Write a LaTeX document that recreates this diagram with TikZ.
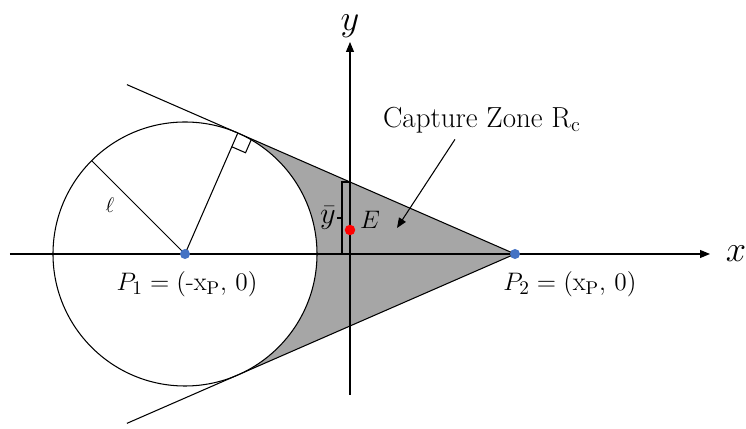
\documentclass[tikz,border=0pt]{standalone}
\usepackage{amsmath}
\usepackage{xcolor}
\usetikzlibrary{arrows.meta,calc,positioning}
\definecolor{ptBlue}{HTML}{4472C4}
\definecolor{evRed}{HTML}{FF0000}
\definecolor{zoneGray}{HTML}{A6A6A6}

\begin{document}
\begin{tikzpicture}[line width=0.6pt, >={Triangle[length=2mm,width=1.6mm]},
  pt/.style={circle,fill=ptBlue,inner sep=0pt,minimum size=2mm},
  lbl/.style={font=\fontsize{15}{18}\selectfont},
  axlbl/.style={font=\fontsize{20}{24}\selectfont,inner sep=0pt}]
\useasboundingbox (-7.0,-3.5) rectangle (7.92,5.08);
% points and tangent construction
\pgfmathsetmacro{\rad}{2.64}
\pgfmathsetmacro{\tang}{acos(\rad/6.6)}
\coordinate (O) at (0,0);
\coordinate (P1) at (-3.3,0);
\coordinate (P2) at (3.3,0);
\coordinate (T1) at ($(P1)+(\tang:\rad)$);
\coordinate (T2) at ($(P1)+(-\tang:\rad)$);
\coordinate (U) at ($(P2)!1.4!(T1)$);
\coordinate (L) at ($(P2)!1.4!(T2)$);
\coordinate (R) at ($(P1)+(135:\rad)$);
\coordinate (Xl) at (-6.8,0);
\coordinate (Xr) at (7.2,0);
\coordinate (Yb) at (0,-2.82);
\coordinate (Yt) at (0,4.24);
\coordinate (Ytop) at (intersection of P2--T1 and Yb--Yt);
% capture zone
\fill[zoneGray] (T1) -- (P2) -- (T2) arc[start angle=-\tang, end angle=\tang, radius=\rad] -- cycle;
\draw (P1) circle[radius=\rad];
\draw (U) -- (P2) -- (L);
\draw (P1) -- (T1);
\draw (P1) -- (R);
\draw ($(T1)+(\tang-90:0.3)$) -- ++(\tang+180:0.3) -- ($(T1)+(\tang+180:0.3)$);
% axes
\draw[->] (Xl) -- (Xr);
\draw[->] (Yb) -- (Yt);
\node[axlbl] (xlbl) at (7.72,0) {$x$};
\node[axlbl] (ylbl) at (0,4.56) {$y$};
% y bar bracket
\draw (Ytop) -| ($(O)+(-0.16,0)$);
\draw ($(Ytop)!0.5!(O)+(-0.16,0)$) coordinate (tk) -- ++(-0.1,0) coordinate (tkl);
\node[font=\fontsize{17}{20}\selectfont, left=0pt of tkl, inner sep=0.5pt] (ybar) {$\bar{y}$};
% points
\node[pt] (p1) at (P1) {};
\node[pt] (p2) at (P2) {};
\node[circle,fill=evRed,inner sep=0pt,minimum size=2.1mm] (e) at (0,0.48) {};
\node[lbl] (elbl) at (0.4,0.68) {$E$};
\node[font=\fontsize{12}{14}\selectfont] (ell) at (-4.8,0.98) {$\ell$};
\node[lbl] (p1lbl) at (-3.26,-0.6) {$P_1=(\text{-x}_{\text{P}},\,0)$};
\node[lbl] (p2lbl) at (4.4,-0.6) {$P_2=(\text{x}_{\text{P}},\,0)$};
% label with arrow
\node[font=\fontsize{16.5}{19}\selectfont] (cz) at (2.64,2.68) {Capture Zone R\textsubscript{c}};
\coordinate (czend) at (0.94,0.52);
\draw[->] ([xshift=-5.4mm]cz.south) -- (czend);
\end{tikzpicture}
\end{document}
